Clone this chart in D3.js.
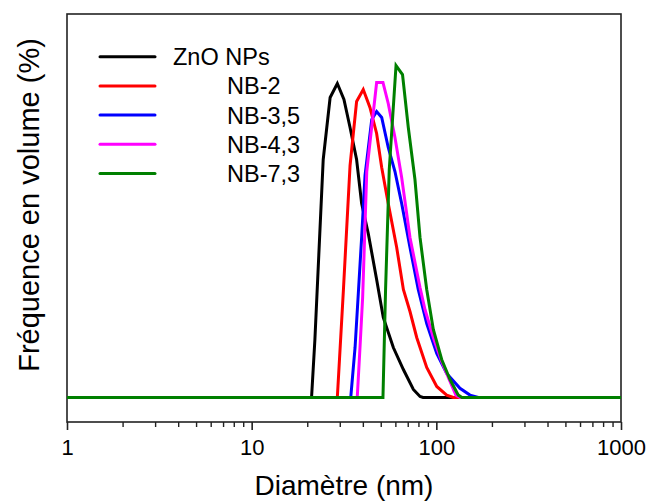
<!DOCTYPE html>
<html>
<head>
<meta charset="utf-8">
<script src="https://cdn.jsdelivr.net/npm/d3@7"></script>
<style>
  html, body { margin: 0; padding: 0; background: #fff; }
  svg { display: block; }
  text { font-family: "Liberation Sans", Arial, sans-serif; fill: #000; }
</style>
</head>
<body>
<svg id="chart" width="648" height="501"></svg>
<script>
// ---- Data (diameter in nm, volume frequency in %) ----
const seriesNames = ["ZnO NPs", "NB-2", "NB-3,5", "NB-4,3", "NB-7,3"];
const seriesColors = ["#000000", "#ff0000", "#0000ff", "#ff00ff", "#008000"];

const znoD = [1, 21.1, 22.0, 24.4, 26.6, 29.1, 31.6, 34.1, 37.0, 39.4, 42.8, 47.5, 51.6, 58.5, 66.3, 75.1, 81.6, 84.7, 1000];
const znoV = [0, 0, 2.9, 11.9, 15.0, 15.7, 14.9, 13.5, 11.9, 9.7, 8.2, 5.9, 4.0, 2.5, 1.4, 0.4, 0.05, 0, 0];

const nb2D = [1, 29.1, 31.4, 34.1, 37.0, 40.2, 43.7, 47.5, 50.6, 54.9, 61.0, 66.3, 72.0, 78.3, 88.7, 100.5, 113.8, 123.6, 1000];
const nb2V = [0, 0, 5.4, 11.6, 14.8, 15.4, 14.5, 13.2, 11.5, 9.7, 7.5, 5.4, 4.3, 3.0, 1.5, 0.55, 0.12, 0, 0];

const nb35D = [1, 34.4, 36.3, 37.8, 39.4, 41.1, 44.7, 47.5, 50.6, 54.9, 59.7, 64.9, 72.0, 79.8, 88.7, 100.5, 113.8, 134.3, 152.1, 168.8, 1000];
const nb35V = [0, 0, 2.5, 5.2, 8.0, 11.1, 13.9, 14.3, 14.0, 12.5, 11.3, 9.7, 7.5, 5.4, 3.7, 2.2, 1.2, 0.46, 0.12, 0, 0];

const nb43D = [1, 37.3, 38.6, 39.9, 42.0, 47.5, 51.4, 54.9, 59.7, 64.9, 72.0, 81.6, 86.8, 96.3, 106.9, 118.6, 127.8, 134.3, 1000];
const nb43V = [0, 0, 2.5, 5.0, 11.3, 15.75, 15.75, 14.7, 13.0, 11.0, 8.0, 5.5, 4.4, 3.0, 1.8, 0.8, 0.1, 0, 0];

const nb73D = [1, 51.4, 53.1, 55.6, 60.5, 65.6, 70.5, 76.6, 81.6, 88.7, 96.3, 106.9, 118.6, 131.5, 137.7, 1000];
const nb73V = [0, 0, 5.4, 11.4, 16.6, 16.15, 13.5, 10.9, 8.0, 5.4, 3.4, 1.9, 0.9, 0.12, 0, 0];

const xTickValues = [1, 10, 100, 1000];
const xTickLabels = ["1", "10", "100", "1000"];

const allD = [znoD, nb2D, nb35D, nb43D, nb73D];
const allV = [znoV, nb2V, nb35V, nb43V, nb73V];

// ---- Layout ----
const svg = d3.select("#chart");
const plot = { left: 67, right: 621, top: 14, bottom: 422 };

const x = d3.scaleLog().domain([1, 1000]).range([plot.left, plot.right]);
const y = d3.scaleLinear().domain([-1.225, 19.175]).range([plot.bottom, plot.top]);

// frame
svg.append("rect")
  .attr("x", plot.left).attr("y", plot.top)
  .attr("width", plot.right - plot.left).attr("height", plot.bottom - plot.top)
  .attr("fill", "none").attr("stroke", "#222").attr("stroke-width", 1.6);

// x axis
const minorTicks = [];
for (let dec = 1; dec < 1000; dec *= 10) {
  for (let k = 2; k <= 9; k++) minorTicks.push(dec * k);
}
const xAxisMajor = d3.axisBottom(x)
  .tickValues(xTickValues)
  .tickFormat((d, i) => xTickLabels[i])
  .tickSize(8).tickPadding(9);
const gx = svg.append("g").attr("transform", `translate(0,${plot.bottom})`).call(xAxisMajor);
gx.select(".domain").remove();
gx.selectAll(".tick line").attr("stroke", "#222").attr("stroke-width", 1.6);
gx.selectAll(".tick text")
  .style("font-family", '"Liberation Sans", Arial, sans-serif')
  .style("font-size", "22px").attr("fill", "#000");

const xAxisMinor = d3.axisBottom(x).tickValues(minorTicks).tickFormat("").tickSize(5);
const gxm = svg.append("g").attr("transform", `translate(0,${plot.bottom})`).call(xAxisMinor);
gxm.select(".domain").remove();
gxm.selectAll(".tick line").attr("stroke", "#222").attr("stroke-width", 1.4);

// axis titles
svg.append("text")
  .attr("x", (plot.left + plot.right) / 2).attr("y", 495)
  .attr("text-anchor", "middle")
  .style("font-size", "28px")
  .text("Diamètre (nm)");

svg.append("text")
  .attr("transform", "translate(39,205) rotate(-90)")
  .attr("text-anchor", "middle")
  .style("font-size", "29px")
  .text("Fréquence en volume (%)");

// curves
const line = d3.line().x(p => x(p[0])).y(p => y(p[1]));
allD.forEach((ds, i) => {
  const pts = ds.map((d, j) => [d, allV[i][j]]);
  svg.append("path")
    .datum(pts)
    .attr("d", line)
    .attr("fill", "none")
    .attr("stroke", seriesColors[i])
    .attr("stroke-width", 3)
    .attr("stroke-linejoin", "miter");
});

// legend
const legendY0 = 56.7, legendDy = 29.2;
seriesNames.forEach((name, i) => {
  const ly = legendY0 + i * legendDy;
  svg.append("line")
    .attr("x1", 100).attr("x2", 155)
    .attr("y1", ly).attr("y2", ly)
    .attr("stroke", seriesColors[i]).attr("stroke-width", 3)
    .attr("stroke-linecap", "round");
  svg.append("text")
    .attr("x", i === 0 ? 173 : 227)
    .attr("y", ly + 8.5)
    .style("font-size", "23.5px")
    .text(name);
});
</script>
</body>
</html>
